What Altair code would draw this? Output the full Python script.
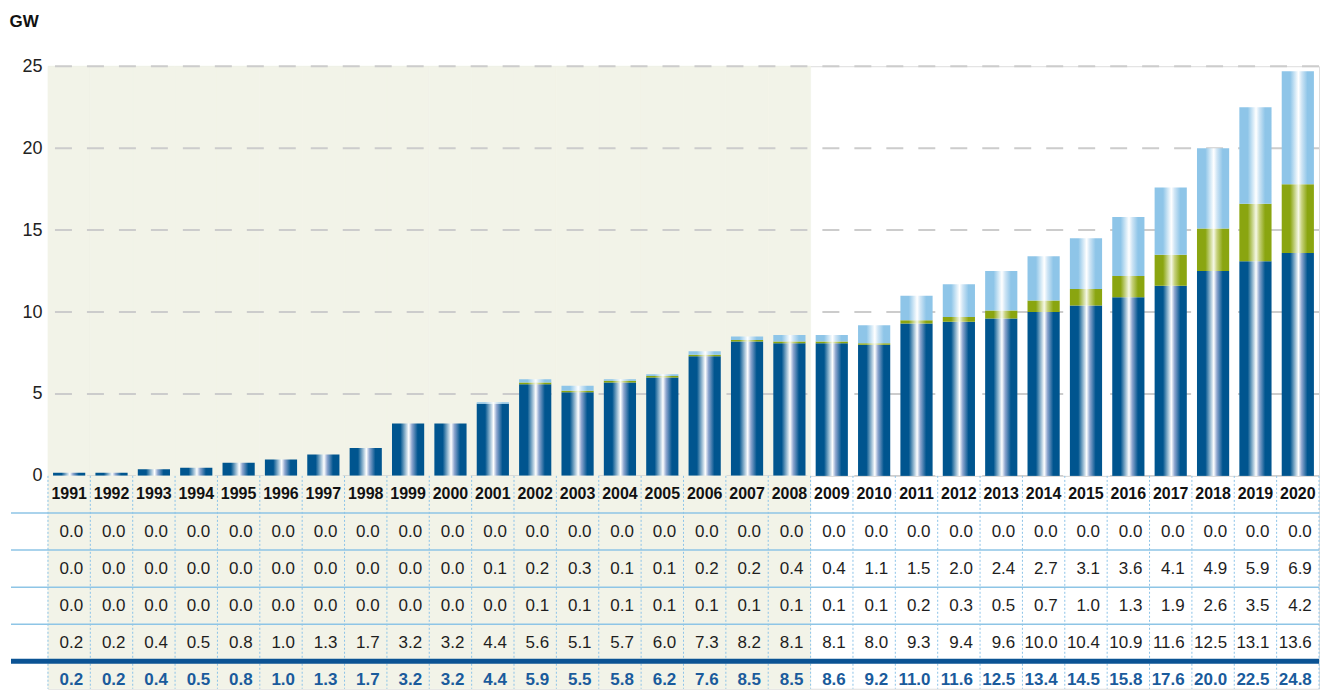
import altair as alt
import pandas as pd

years = ["1991", "1992", "1993", "1994", "1995", "1996", "1997", "1998", "1999", "2000",
         "2001", "2002", "2003", "2004", "2005", "2006", "2007", "2008", "2009", "2010",
         "2011", "2012", "2013", "2014", "2015", "2016", "2017", "2018", "2019", "2020"]
row1 = [0.0, 0.0, 0.0, 0.0, 0.0, 0.0, 0.0, 0.0, 0.0, 0.0,
        0.0, 0.0, 0.0, 0.0, 0.0, 0.0, 0.0, 0.0, 0.0, 0.0,
        0.0, 0.0, 0.0, 0.0, 0.0, 0.0, 0.0, 0.0, 0.0, 0.0]
light = [0.0, 0.0, 0.0, 0.0, 0.0, 0.0, 0.0, 0.0, 0.0, 0.0,
         0.1, 0.2, 0.3, 0.1, 0.1, 0.2, 0.2, 0.4, 0.4, 1.1,
         1.5, 2.0, 2.4, 2.7, 3.1, 3.6, 4.1, 4.9, 5.9, 6.9]
green = [0.0, 0.0, 0.0, 0.0, 0.0, 0.0, 0.0, 0.0, 0.0, 0.0,
         0.0, 0.1, 0.1, 0.1, 0.1, 0.1, 0.1, 0.1, 0.1, 0.1,
         0.2, 0.3, 0.5, 0.7, 1.0, 1.3, 1.9, 2.6, 3.5, 4.2]
dark = [0.2, 0.2, 0.4, 0.5, 0.8, 1.0, 1.3, 1.7, 3.2, 3.2,
        4.4, 5.6, 5.1, 5.7, 6.0, 7.3, 8.2, 8.1, 8.1, 8.0,
        9.3, 9.4, 9.6, 10.0, 10.4, 10.9, 11.6, 12.5, 13.1, 13.6]
total = [0.2, 0.2, 0.4, 0.5, 0.8, 1.0, 1.3, 1.7, 3.2, 3.2,
         4.4, 5.9, 5.5, 5.8, 6.2, 7.6, 8.5, 8.5, 8.6, 9.2,
         11.0, 11.6, 12.5, 13.4, 14.5, 15.8, 17.6, 20.0, 22.5, 24.8]
shade_years = years[:18]
ticks = [0, 5, 10, 15, 20, 25]

W = 1272
H_TOP = 410
H_TAB = 213
LEFT = -39
BEIGE = "#f2f3e8"
SANS = "Liberation Sans, Arial, sans-serif"

# ---------- data frames ----------
bars = pd.DataFrame({"year": years, "dark": dark, "green": green, "light": light})
bars["d0"] = 0.0
bars["d1"] = bars["dark"]
bars["g0"] = bars["d1"]
bars["g1"] = bars["g0"] + bars["green"]
bars["l0"] = bars["g1"]
bars["l1"] = bars["l0"] + bars["light"]

shade_df = pd.DataFrame({"year": shade_years})
years_df = pd.DataFrame({"year": years})
grid_df = pd.DataFrame({"v": ticks})

recs = []
for i, y in enumerate(years):
    recs.append({"year": y, "row": 0, "kind": "year", "label": y})
    for r, vals in enumerate([row1, light, green, dark], start=1):
        recs.append({"year": y, "row": r, "kind": "val", "label": f"{vals[i]:.1f}"})
    recs.append({"year": y, "row": 5, "kind": "total", "label": f"{total[i]:.1f}"})
tab = pd.DataFrame(recs)

# ---------- scales / axes ----------
xscale = alt.Scale(domain=years, paddingInner=0, paddingOuter=0)


def X(**kw):
    return alt.X("year:N", scale=xscale, axis=None, **kw)


yscale = alt.Scale(domain=[0, 25], nice=False, zero=True)
yaxis = alt.Axis(values=ticks, grid=False, domain=False, ticks=False,
                 labelFontSize=18, labelFont=SANS, labelColor="#222222",
                 labelPadding=6, title="GW", titleAngle=0, titleX=LEFT, titleY=-45,
                 titleAlign="left", titleBaseline="middle", titleFontSize=17,
                 titleFont=SANS, titleFontWeight="bold", titleColor="#111111")


def grad(base, mid, hi):
    return alt.LinearGradient(
        gradient="linear", x1=0, x2=1, y1=0, y2=0,
        stops=[alt.GradientStop(color=base, offset=0),
               alt.GradientStop(color=base, offset=0.26),
               alt.GradientStop(color=hi, offset=0.52),
               alt.GradientStop(color=mid, offset=0.62),
               alt.GradientStop(color=base, offset=0.8),
               alt.GradientStop(color=base, offset=1)])


G_DARK = grad("#00558f", "#8ea6cf", "#ffffff")
G_GREEN = grad("#8aa510", "#c7d27e", "#f6f8e6")
G_LIGHT = grad("#8ec5e8", "#cfe5f5", "#ffffff")

# ---------- top chart ----------
bg_top = alt.Chart(shade_df).mark_rect(color=BEIGE, stroke=BEIGE, strokeWidth=0.6).encode(
    x=X(),
    y=alt.YDatum(25, type="quantitative", scale=yscale, axis=yaxis),
    y2=alt.Y2Datum(0),
)
grid = alt.Chart(grid_df).mark_rule(color="#cccccc", strokeWidth=2, strokeDash=[17, 15]).encode(
    y=alt.Y("v:Q", scale=yscale, axis=yaxis)
)


def bar_layer(lo, hi, g):
    return alt.Chart(bars).mark_bar(color=g, width={"band": 0.76}).encode(
        x=X(),
        y=alt.Y(f"{hi}:Q", scale=yscale, axis=yaxis),
        y2=alt.Y2(f"{lo}:Q"),
    )


top = alt.layer(
    bg_top, grid,
    bar_layer("d0", "d1", G_DARK),
    bar_layer("g0", "g1", G_GREEN),
    bar_layer("l0", "l1", G_LIGHT),
).properties(width=W, height=H_TOP)

# ---------- table chart ----------
tscale = alt.Scale(domain=[-0.5, 5.24], reverse=True, nice=False, zero=False)


def TY(f):
    return alt.Y(f, scale=tscale, axis=None)


bg_tab = alt.Chart(shade_df).mark_rect(color=BEIGE, stroke=BEIGE, strokeWidth=0.6).encode(
    x=X(),
    y=alt.YDatum(-0.5, type="quantitative", scale=tscale, axis=None),
    y2=alt.Y2Datum(5.24),
)
vsep = alt.Chart(years_df).mark_rule(color="#8cc3e8", strokeDash=[2, 2], strokeWidth=1).encode(
    x=X(bandPosition=0)
)
vsep_last = alt.Chart(pd.DataFrame({"year": [years[-1]]})).mark_rule(
    color="#8cc3e8", strokeDash=[2, 2], strokeWidth=1).encode(x=X(bandPosition=1))
hlines = alt.Chart(pd.DataFrame({"r": [0.5, 1.5, 2.5, 3.5]})).mark_rule(
    color="#8ec5e6", strokeWidth=1.5).encode(
    y=TY("r:Q"), x=alt.value(LEFT + 2), x2=alt.value(W))
thick = alt.Chart(pd.DataFrame({"r": [4.5]})).mark_rule(
    color="#0b5394", strokeWidth=5).encode(
    y=TY("r:Q"), x=alt.value(LEFT + 2), x2=alt.value(W))

year_txt = alt.Chart(tab).transform_filter(alt.datum.kind == "year").mark_text(
    font=SANS, fontSize=16, fontWeight="bold", color="#111111").encode(
    x=X(), y=TY("row:Q"), text="label:N")
val_txt = alt.Chart(tab).transform_filter(alt.datum.kind == "val").mark_text(
    font=SANS, fontSize=17, color="#1e1e1e", align="right", dx=14).encode(
    x=X(), y=TY("row:Q"), text="label:N")
tot_txt = alt.Chart(tab).transform_filter(alt.datum.kind == "total").mark_text(
    font=SANS, fontSize=17, fontWeight="bold", color="#1a5b9c", align="right", dx=14).encode(
    x=X(), y=TY("row:Q"), text="label:N")

table = alt.layer(bg_tab, vsep, vsep_last, hlines, thick, year_txt, val_txt, tot_txt).properties(
    width=W, height=H_TAB)

chart = alt.vconcat(top, table, spacing=0, bounds="flush").properties(
    padding={"left": 0, "top": 3, "right": 0, "bottom": 0}
).configure_view(strokeWidth=0).configure(background="white")

chart.save("out.html", embed_options={"renderer": "svg", "actions": False})
